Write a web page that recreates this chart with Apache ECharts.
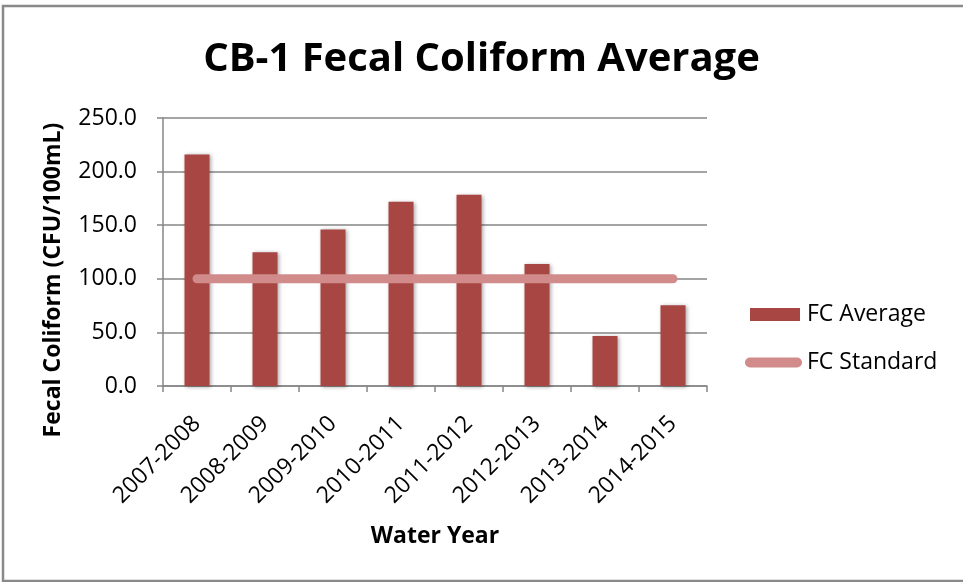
<!DOCTYPE html>
<html>
<head>
<meta charset="utf-8">
<script src="https://cdn.jsdelivr.net/npm/echarts@6/dist/echarts.min.js"></script>
<style>
html,body{margin:0;padding:0;background:#fff;}
#main{width:963px;height:582px;}
</style>
</head>
<body>
<div id="main"></div>
<script>
const categories = ['2007-2008','2008-2009','2009-2010','2010-2011','2011-2012','2012-2013','2013-2014','2014-2015'];
const fcAverage = [216.0, 124.8, 146.0, 171.8, 178.4, 113.9, 46.7, 75.3];
const fcStandard = [100, 100, 100, 100, 100, 100, 100, 100];
const yTicks = [0, 50, 100, 150, 200, 250];

const FONT = '"Open Sans", "Noto Sans", sans-serif';
const chart = echarts.init(document.getElementById('main'), null, {renderer: 'canvas'});
chart.setOption({
  backgroundColor: '#fff',
  animation: false,
  title: {
    text: 'CB-1 Fecal Coliform Average',
    left: 'center',
    top: 35,
    textStyle: {fontFamily: FONT, fontWeight: 'bold', fontSize: 40, color: '#000'}
  },
  grid: {left: 163, right: 256, top: 118, bottom: 196, containLabel: false},
  legend: [
    {
      data: ['FC Average'],
      left: 745, top: 298, orient: 'vertical',
      icon: 'rect', itemWidth: 50, itemHeight: 13,
      textStyle: {fontFamily: FONT, fontSize: 23, color: '#000', padding: [0,0,0,2]},
      itemStyle: {borderWidth: 0, shadowBlur: 0}
    },
    {
      data: ['FC Standard'],
      left: 740, top: 346, orient: 'vertical',
      icon: 'path://M5,0 L52,0 A5,5 0 0 1 52,10 L5,10 A5,5 0 0 1 5,0 Z',
      itemWidth: 57, itemHeight: 10,
      textStyle: {fontFamily: FONT, fontSize: 23, color: '#000'},
      itemStyle: {borderWidth: 0}
    }
  ],
  xAxis: {
    type: 'category',
    data: categories,
    name: 'Water Year',
    nameLocation: 'middle',
    nameGap: 139,
    nameTextStyle: {fontFamily: FONT, fontWeight: 'bold', fontSize: 23, color: '#000'},
    axisLine: {lineStyle: {color: '#868686', width: 1.5}},
    axisTick: {show: true, length: 6, lineStyle: {color: '#868686', width: 1.5}},
    axisLabel: {rotate: 45, margin: 34, interval: 0, fontFamily: FONT, fontSize: 23, color: '#000'},
    splitLine: {show: false}
  },
  yAxis: {
    type: 'value',
    min: yTicks[0],
    max: yTicks[yTicks.length - 1],
    interval: yTicks[1] - yTicks[0],
    axisLine: {show: true, lineStyle: {color: '#868686', width: 1.5}},
    axisTick: {show: true, length: 6, lineStyle: {color: '#868686', width: 1.5}},
    axisLabel: {margin: 26, fontFamily: FONT, fontSize: 23, color: '#000', formatter: v => v.toFixed(1)},
    splitLine: {show: true, lineStyle: {color: '#868686', width: 1.5}}
  },
  graphic: [
    {
      type: 'text',
      x: 53, y: 280,
      rotation: Math.PI / 2,
      style: {
        text: 'Fecal Coliform (CFU/100mL)',
        fontFamily: FONT, fontWeight: 'bold', fontSize: 23, fill: '#000',
        textAlign: 'center', textVerticalAlign: 'middle'
      }
    },
    {
      type: 'rect',
      shape: {x: 3, y: 6, width: 975, height: 575},
      style: {fill: 'none', stroke: '#898989', lineWidth: 2.5},
      silent: true
    }
  ],
  series: [
    {
      name: 'FC Average',
      type: 'bar',
      data: fcAverage,
      barWidth: 25,
      itemStyle: {color: '#A84644', shadowBlur: 4, shadowColor: 'rgba(0,0,0,0.35)', shadowOffsetX: 1, shadowOffsetY: 1}
    },
    {
      name: 'FC Standard',
      type: 'line',
      data: fcStandard,
      symbol: 'none',
      itemStyle: {color: '#D08B8A'},
      lineStyle: {color: '#D08B8A', width: 9, cap: 'round'},
      z: 3
    }
  ]
});
</script>
</body>
</html>
